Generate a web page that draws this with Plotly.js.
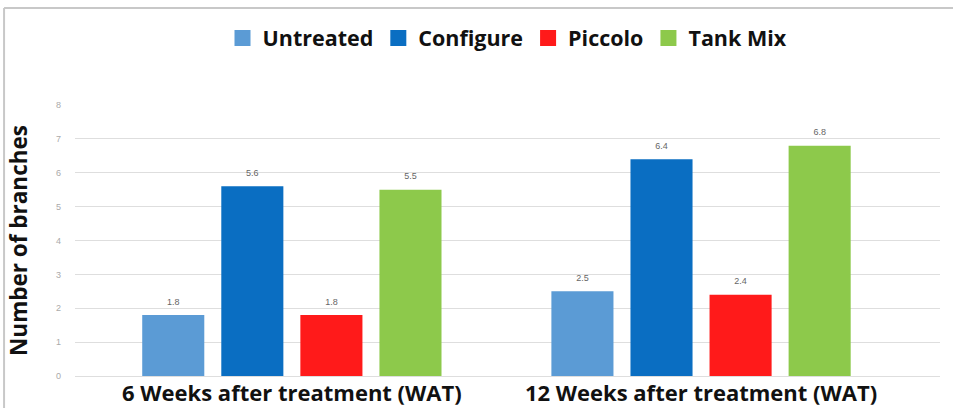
<!DOCTYPE html>
<html>
<head>
<meta charset="utf-8">
<script src="https://cdn.plot.ly/plotly-3.0.1.min.js"></script>
<style>html,body{margin:0;padding:0;background:#fff;}#chart{width:953px;height:408px;}</style>
</head>
<body>
<div id="chart"></div>
<script>
const categories = ["6 Weeks after treatment (WAT)", "12 Weeks after treatment (WAT)"];
const seriesNames = ["Untreated", "Configure", "Piccolo", "Tank Mix"];
const untreated = [1.8, 2.5];
const configure = [5.6, 6.4];
const piccolo = [1.8, 2.4];
const tankMix = [5.5, 6.8];
const yTicks = [0, 1, 2, 3, 4, 5, 6, 7, 8];
const colors = ["#5B9BD5", "#0A6EC2", "#FF1A1A", "#8DC94B"];

const values = [untreated, configure, piccolo, tankMix];
const traces = values.map((v, i) => ({
  type: "bar",
  name: seriesNames[i],
  x: categories,
  y: v,
  marker: {color: colors[i]},
  text: v.map(d => d.toFixed(1)),
  texttemplate: "<span style='font-size:9px'>%{text}</span><br> ",
  textposition: "outside",
  cliponaxis: false,
  constraintext: "none",
  textfont: {family: "Liberation Sans, Arial", size: 5, color: "#666666"},
  showlegend: false,
  hoverinfo: "skip"
}));
// legend entries with larger square swatches
seriesNames.forEach((n, i) => traces.push({
  type: "scatter", mode: "markers", name: n,
  x: [null], y: [null],
  marker: {symbol: "square", size: 16, color: colors[i]},
  showlegend: true, hoverinfo: "skip"
}));

const layout = {
  width: 953, height: 408,
  margin: {l: 75, r: 13, t: 105, b: 32},
  paper_bgcolor: "#ffffff", plot_bgcolor: "#ffffff",
  barmode: "group",
  bargap: 0.227,
  bargroupgap: 0.215,
  showlegend: true,
  legend: {
    orientation: "h", x: 0.5, xanchor: "center", y: 1.247, yanchor: "middle",
    font: {family: "Open Sans", size: 21.5, color: "#111111", weight: 700},
    itemwidth: 30, traceorder: "normal", itemsizing: "trace"
  },
  xaxis: {
    type: "category",
    range: [-0.53, 1.584],
    showgrid: false, zeroline: false, showline: false, ticks: "",
    ticklabelstandoff: 2,
    tickfont: {family: "Open Sans", size: 22, color: "#111111", weight: 700},
    automargin: false
  },
  yaxis: {
    range: [0, 8],
    tickvals: yTicks,
    ticktext: yTicks.map(String),
    showgrid: true, gridcolor: "#dedede", gridwidth: 1,
    zeroline: true, zerolinecolor: "#dedede", zerolinewidth: 1,
    showline: false, ticks: "",
    ticklabelstandoff: 13,
    tickfont: {family: "Liberation Sans, Arial", size: 9, color: "#aaaaaa"},
    title: {text: "Number of branches", standoff: 22,
            font: {family: "Open Sans", size: 22.5, color: "#111111", weight: 700}},
    automargin: false
  },
  shapes: [
    {type: "line", xref: "paper", yref: "paper", x0: -0.082, x1: -0.082, y0: -0.2, y1: 1.358,
     line: {color: "#c8c8c8", width: 2}},
    {type: "line", xref: "paper", yref: "paper", x0: -0.082, x1: 1.02, y0: 1.358, y1: 1.358,
     line: {color: "#c8c8c8", width: 2}}
  ]
};

Plotly.newPlot("chart", traces, layout, {staticPlot: true, displayModeBar: false});
</script>
</body>
</html>
